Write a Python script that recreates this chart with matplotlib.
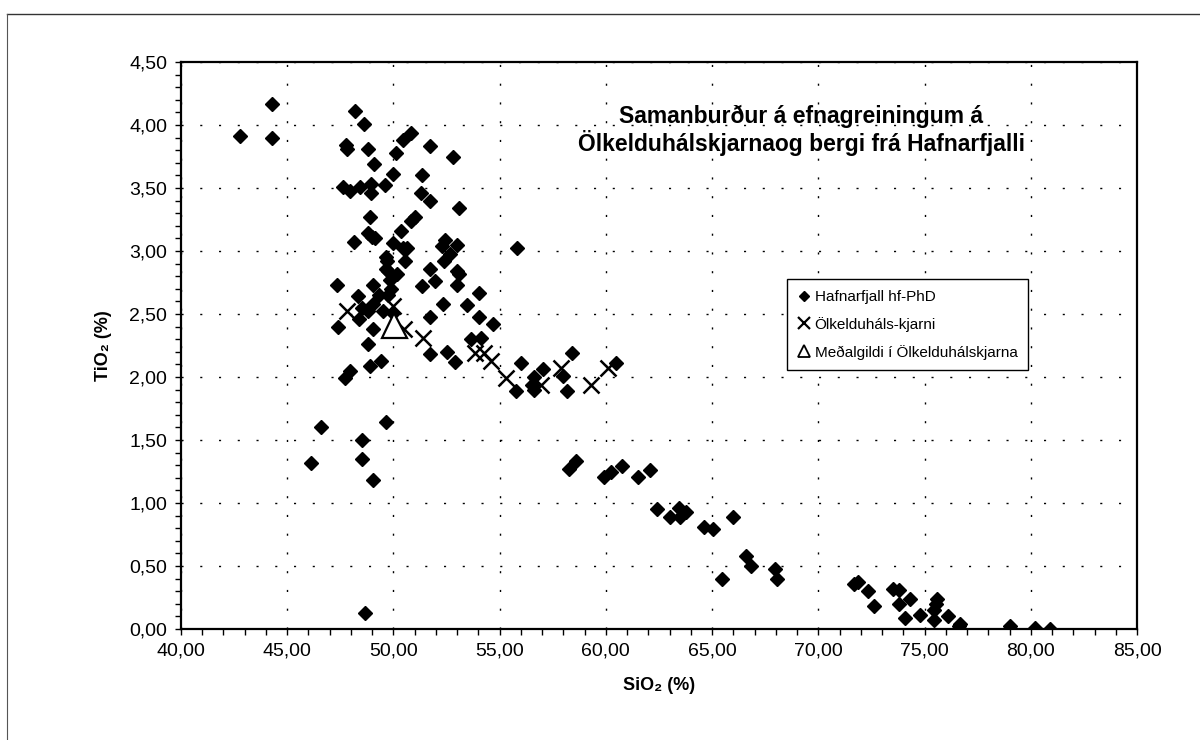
import numpy as np
import matplotlib
matplotlib.use("Agg")
matplotlib.rcParams.update({'font.size': 14})
matplotlib.rcParams['font.family'] = ['Liberation Sans', 'DejaVu Sans']
import matplotlib.pyplot as plt
from matplotlib.lines import Line2D
from matplotlib.ticker import MultipleLocator, FuncFormatter

# Hafnarfjall hf-PhD samples (SiO2, TiO2)
hafnar_si = [42.8, 44.3, 44.3, 48.2, 48.6, 47.75, 47.8, 48.8, 49.1, 50.0,
             50.1, 50.45, 50.85, 51.7, 52.8, 51.35, 51.3, 51.7, 53.1, 47.65,
             47.95, 48.45, 48.95, 48.95, 49.6, 48.9, 48.8, 49.0, 49.15, 48.15,
             50.0, 50.35, 50.85, 51.0, 50.45, 50.65, 50.55, 49.65, 49.7, 49.65,
             49.75, 50.15, 49.85, 49.9, 49.75, 49.3, 49.05, 48.35, 47.35, 48.5,
             48.8, 49.05, 49.5, 50.0, 48.4, 47.4, 49.05, 48.8, 48.9, 49.4,
             47.95, 47.7, 51.7, 51.35, 51.95, 52.4, 52.3, 52.45, 52.65, 53.0,
             53.0, 53.1, 53.0, 52.35, 53.45, 54.05, 51.7, 54.05, 51.7, 52.5,
             52.9, 53.65, 54.1, 54.7, 55.8, 55.75, 56.0, 56.6, 56.5, 56.6,
             57.05, 58.0, 58.15, 58.4, 60.5,
             46.6, 46.1, 48.5, 48.5, 49.05, 49.65, 48.65,
             58.25, 58.6, 59.9, 60.25, 60.75, 61.5, 62.1,
             62.4, 63.0, 63.5, 63.45, 63.75, 64.6, 65.05, 66.0,
             65.45, 66.6, 66.85, 67.95, 68.05,
             71.7, 71.85, 72.35, 72.6, 73.5, 73.8, 73.8, 74.3, 74.1, 74.8,
             75.45, 75.6, 75.55, 75.45, 76.1, 76.6, 76.65, 79.0, 80.2, 80.9]
hafnar_ti = [3.91, 4.17, 3.90, 4.11, 4.01, 3.84, 3.81, 3.81, 3.69, 3.61,
             3.78, 3.88, 3.94, 3.83, 3.75, 3.60, 3.46, 3.40, 3.34, 3.51,
             3.48, 3.51, 3.53, 3.46, 3.52, 3.27, 3.14, 3.11, 3.10, 3.07,
             3.06, 3.16, 3.24, 3.27, 3.02, 3.02, 2.92, 2.95, 2.92, 2.86,
             2.84, 2.82, 2.77, 2.70, 2.65, 2.65, 2.73, 2.64, 2.73, 2.55,
             2.52, 2.58, 2.52, 2.51, 2.46, 2.40, 2.38, 2.26, 2.09, 2.13,
             2.05, 1.99, 2.86, 2.72, 2.76, 2.92, 3.04, 3.09, 2.98, 3.05,
             2.84, 2.82, 2.73, 2.58, 2.57, 2.67, 2.48, 2.48, 2.18, 2.20,
             2.12, 2.30, 2.31, 2.42, 3.02, 1.89, 2.11, 2.00, 1.94, 1.90,
             2.06, 2.01, 1.89, 2.19, 2.11,
             1.60, 1.32, 1.50, 1.35, 1.18, 1.64, 0.13,
             1.27, 1.33, 1.21, 1.25, 1.29, 1.21, 1.26,
             0.95, 0.89, 0.89, 0.96, 0.93, 0.81, 0.79, 0.89,
             0.40, 0.58, 0.50, 0.48, 0.40,
             0.36, 0.37, 0.30, 0.18, 0.32, 0.31, 0.20, 0.24, 0.09, 0.11,
             0.15, 0.24, 0.20, 0.07, 0.10, 0.02, 0.04, 0.02, 0.01, 0.00]

# Ölkelduháls core samples
kjarni_si = [47.8, 50.0, 50.5, 51.4, 53.85, 54.25, 54.6, 55.3, 56.95, 57.9, 59.3, 60.1]
kjarni_ti = [2.52, 2.56, 2.38, 2.31, 2.19, 2.19, 2.13, 1.99, 1.94, 2.07, 1.94, 2.07]

# mean of the core
mean_si = [50.05]
mean_ti = [2.41]

labels = ['Hafnarfjall hf-PhD', 'Ölkelduháls-kjarni', 'Meðalgildi í Ölkelduhálskjarna']
title = 'Samanburður á efnagreiningum á\nÖlkelduhálskjarnaog bergi frá Hafnarfjalli'

fig = plt.figure(figsize=(12, 7.4), dpi=100)
ax = fig.add_axes([0.1508, 0.15, 0.7967, 0.7662])

ax.plot(hafnar_si, hafnar_ti, 'D', color='black', ms=7, zorder=3)
ax.plot(kjarni_si, kjarni_ti, 'x', color='black', ms=11, mew=1.8, zorder=4)
ax.plot(mean_si, mean_ti, '^', mfc='white', mec='black', ms=18, mew=1.6, zorder=5)

ax.set_xlim(40, 85)
ax.set_ylim(0, 4.5)
ax.xaxis.set_major_locator(MultipleLocator(5))
ax.xaxis.set_minor_locator(MultipleLocator(1))
ax.yaxis.set_major_locator(MultipleLocator(0.5))
ax.yaxis.set_minor_locator(MultipleLocator(0.1))
comma = FuncFormatter(lambda v, p: ('%.2f' % v).replace('.', ','))
ax.xaxis.set_major_formatter(comma)
ax.yaxis.set_major_formatter(comma)
ax.tick_params(which='both', direction='out', length=4, width=1, labelsize=14, pad=6)

ax.grid(True, which='major', color='black', linestyle=(0, (1.5, 12)), linewidth=1)
for s in ax.spines.values():
    s.set_linewidth(1.6)
    s.set_color('black')

ax.set_xlabel('SiO₂ (%)', fontsize=13, fontweight='bold', labelpad=12)
ax.set_ylabel('TiO₂ (%)', fontsize=13, fontweight='bold', labelpad=12)

ax.text(69.2, 3.96, title, ha='center', va='center', fontsize=16.5,
        fontweight='bold', linespacing=1.1)

# legend with smaller proxy markers
handles = [Line2D([], [], ls='', marker='D', color='black', ms=5),
           Line2D([], [], ls='', marker='x', color='black', ms=8, mew=1.6),
           Line2D([], [], ls='', marker='^', mfc='white', mec='black', ms=8, mew=1.3)]
leg = ax.legend(handles, labels, loc='upper left', bbox_to_anchor=(0.634, 0.617),
                fontsize=11, fancybox=False, framealpha=1, edgecolor='black',
                handlelength=0.8, handletextpad=0.3, labelspacing=0.85,
                borderpad=0.7, borderaxespad=0)
leg.get_frame().set_linewidth(1)

# page border from the scan
fig.add_artist(Line2D([7 / 1200, 1], [1 - 14 / 740, 1 - 14 / 740], color='#333333', lw=1))
fig.add_artist(Line2D([7 / 1200, 7 / 1200], [0, 1 - 14 / 740], color='#555555', lw=0.8))

fig.savefig('out.png', dpi=100)
